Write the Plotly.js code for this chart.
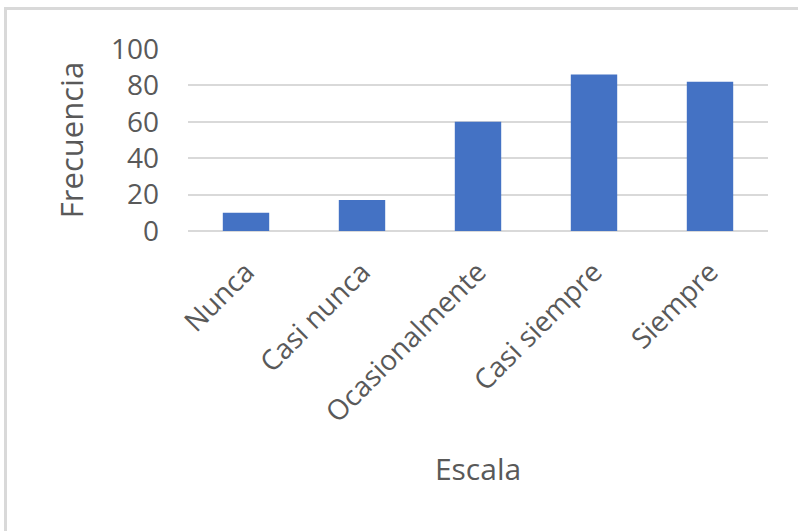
<!DOCTYPE html>
<html>
<head>
<meta charset="utf-8">
<script src="https://cdn.plot.ly/plotly-3.0.1.min.js"></script>
<style>
html,body{margin:0;padding:0;background:#fff;overflow:hidden;}
#chart{position:absolute;left:0;top:0;width:798px;height:531px;}
#frame{position:absolute;left:4px;top:7px;width:900px;height:600px;border-left:3px solid #d9d9d9;border-top:3px solid #d9d9d9;pointer-events:none;}
</style>
</head>
<body>
<div id="chart"></div>
<div id="frame"></div>
<script>
const categories = ["Nunca", "Casi nunca", "Ocasionalmente", "Casi siempre", "Siempre"];
const frecuencia = [10, 17, 60, 86, 82];
const yTicks = [0, 20, 40, 60, 80, 100];

const trace = {
  type: "bar",
  x: categories,
  y: frecuencia,
  marker: {color: "#4472C4", line: {width: 0}},
  hoverinfo: "skip"
};

const layout = {
  width: 798,
  height: 531,
  paper_bgcolor: "#ffffff",
  plot_bgcolor: "#ffffff",
  margin: {l: 188, r: 30, t: 49, b: 300},
  bargap: 0.6,
  showlegend: false,
  font: {family: "'Open Sans', sans-serif", color: "#595959"},
  xaxis: {
    type: "category",
    tickangle: -45,
    tickfont: {size: 28, color: "#595959"},
    showgrid: false,
    showline: false,
    ticks: "",
    ticklabelstandoff: 18,
    automargin: false,
    title: {text: "Escala", font: {size: 30, color: "#595959"}, standoff: 30}
  },
  yaxis: {
    range: [0, 100],
    tickvals: yTicks,
    ticktext: yTicks.map(String),
    tickfont: {size: 28, color: "#595959"},
    showgrid: true,
    gridcolor: "#d9d9d9",
    gridwidth: 2,
    zeroline: true,
    zerolinecolor: "#d9d9d9",
    zerolinewidth: 2,
    showline: false,
    ticks: "",
    ticklabelstandoff: 28,
    automargin: false,
    title: {text: "Frecuencia", font: {size: 31, color: "#595959"}, standoff: 18}
  }
};

Plotly.newPlot("chart", [trace], layout, {staticPlot: true, displayModeBar: false});
</script>
</body>
</html>
